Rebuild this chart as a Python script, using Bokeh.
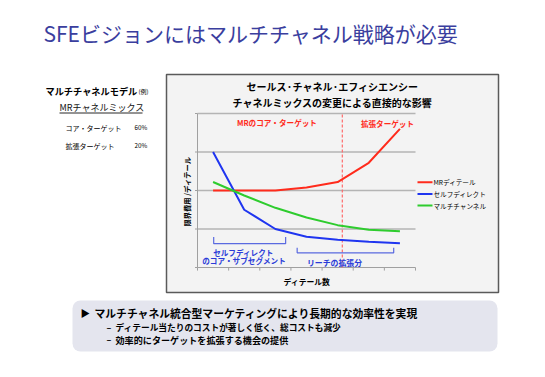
import math
from bokeh.plotting import figure
from bokeh.models import Range1d, Label
from bokeh.embed import file_html
from bokeh.resources import INLINE

# ---------------- data ----------------
detail_x = [0.5, 1.5, 2.5, 3.5, 4.5, 5.5, 6.5]
mr_detail = [2.0, 2.0, 2.0, 2.08, 2.22, 2.72, 3.6]
self_direct = [3.0, 1.5, 1.0, 0.8, 0.72, 0.67, 0.63]
multi_channel = [2.22, 1.87, 1.55, 1.3, 1.1, 0.98, 0.94]
series_names = ["MRディテール", "セルフディレクト", "マルチチャンネル"]
series_colors = ["#ff2b1c", "#1f35f0", "#2ecc2e"]
grid_levels = [1, 2, 3, 4]
x_ticks = [0, 1, 2, 3, 4, 5, 6, 7]
boundary_x = 4.65
core_span = [0.52, 2.83]
reach_span = [3.2, 6.3]
mix_labels = ["コア・ターゲット", "拡張ターゲット"]
mix_values = ["60%", "20%"]

FONT = "Noto Sans CJK JP"
W, H = 545, 377

p = figure(width=W, height=H, output_backend="svg", toolbar_location=None,
           x_range=Range1d(0, W), y_range=Range1d(H, 0),
           x_axis_location=None, y_axis_location=None, min_border=0)
p.outline_line_color = None
p.grid.visible = False
p.background_fill_color = "white"
p.border_fill_color = "white"

# chart scales (plot area in page)
PX = (197, 415)   # x=0 .. x=7
PY = (267, 113)   # y=0 .. y=4
X_LIM = (0, 7)
Y_LIM = (0, 4)
sx = (PX[1] - PX[0]) / (X_LIM[1] - X_LIM[0])
sy = (PY[0] - PY[1]) / (Y_LIM[1] - Y_LIM[0])
p.extra_x_ranges = {"cx": Range1d(X_LIM[0] - PX[0] / sx, X_LIM[1] + (W - PX[1]) / sx)}
p.extra_y_ranges = {"cy": Range1d(Y_LIM[0] - (H - PY[0]) / sy, Y_LIM[1] + PY[1] / sy)}
C = dict(x_range_name="cx", y_range_name="cy")


def lab(x, y, text, size, color="#000000", bold=False, align="left", angle=0.0, chart=False):
    kw = C if chart else {}
    p.add_layout(Label(x=x, y=y, text=text, text_font=FONT, text_font_size=f"{size}px",
                       text_color=color, text_font_style="bold" if bold else "normal",
                       text_align=align, text_baseline="middle", angle=angle, **kw))


# ---------------- page title ----------------
lab(43, 32, "SFEビジョンにはマルチチャネル戦略が必要", 21, color="#3a3e9e")

# ---------------- left model text ----------------
lab(45, 90, "マルチチャネルモデル", 9.2, bold=True)
lab(138, 91, "(例)", 6)
lab(59, 107, "MRチャネルミックス", 9, color="#111111")
p.segment(x0=59, x1=142, y0=112.5, y1=112.5, line_color="#111111", line_width=0.9)
for i, (name, val) in enumerate(zip(mix_labels, mix_values)):
    lab(65, 127 + 18 * i, name, 7)
    lab(134, 127 + 18 * i, val, 6.3)

# ---------------- chart box ----------------
p.quad(left=166, right=498, top=74, bottom=292, fill_color="#f3f3f3",
       line_color="#5a5a5a", line_width=1.5)
lab(332, 86, "セールス·チャネル·エフィシエンシー", 10, bold=True, align="center")
lab(332, 101.5, "チャネルミックスの変更による直接的な影響", 10, bold=True, align="center")

# gridlines and axes
p.segment(x0=X_LIM[0], x1=X_LIM[1], y0=grid_levels, y1=grid_levels,
          line_color="#b4b4b4", line_width=1.5, **C)
p.segment(x0=0, x1=0, y0=0, y1=4, line_color="#a0a0a0", line_width=1, **C)
p.segment(x0=0, x1=7, y0=0, y1=0, line_color="#a0a0a0", line_width=1, **C)
p.segment(x0=x_ticks, x1=x_ticks, y0=[0] * len(x_ticks), y1=[-0.08] * len(x_ticks),
          line_color="#a0a0a0", line_width=1, **C)
p.segment(x0=[-0.08] * 5, x1=[0] * 5, y0=[0] + grid_levels, y1=[0] + grid_levels,
          line_color="#a0a0a0", line_width=1, **C)

# boundary
p.segment(x0=boundary_x, x1=boundary_x, y0=0, y1=4, line_color="#ff6b6b",
          line_width=1.2, line_dash="3 2", **C)
lab(2.55, 3.77, "MRのコア・ターゲット", 7.6, color="#ff2b1c", bold=True, align="center", chart=True)
lab(6.1, 3.75, "拡張ターゲット", 7.6, color="#ff2b1c", bold=True, align="center", chart=True)

# series
for ys, col in zip([mr_detail, self_direct, multi_channel], series_colors):
    p.line(detail_x, ys, line_color=col, line_width=2, **C)

# brackets
BLUE_T = "#2a3bd8"
for (a, b), top, bot in [(core_span, 0.79, 0.62), (reach_span, 0.51, 0.38)]:
    p.line([a, a, b, b], [top, bot, bot, top], line_color="#5a6ae0", line_width=1.2, **C)
lab(243, 251.7, "セルフディレクト", 7.6, color=BLUE_T, bold=True, align="center")
lab(243.5, 260.3, "のコア・サブセグメント", 7.6, color=BLUE_T, bold=True, align="center")
lab(334, 262, "リーチの拡張分", 7.9, color=BLUE_T, bold=True, align="center")

# axis titles
lab(306.5, 281, "ディテール数", 7.8, bold=True, align="center")
lab(186.5, 191, "限界費用 /ディテール", 7.3, bold=True, align="center", angle=math.pi / 2)

# legend
for i, (name, col) in enumerate(zip(series_names, series_colors)):
    yy = 181.7 + 11.7 * i
    p.segment(x0=417, x1=432, y0=yy, y1=yy, line_color=col, line_width=2)
    lab(433, yy, name, 6.6)

# ---------------- bottom message box ----------------
p.quad(left=72, right=497, top=300, bottom=351, border_radius=8,
       fill_color="#e4e5ee", line_color=None)
lab(80, 312.5, "▶", 9.5)
lab(94, 312.5, "マルチチャネル統合型マーケティングにより長期的な効率性を実現", 10.8, bold=True)
lab(106, 327, "–", 8.8, bold=True)
lab(115, 327, "ディテール当たりのコストが著しく低く、総コストも減少", 8.7, bold=True)
lab(106, 339, "–", 8.8, bold=True)
lab(115, 339, "効率的にターゲットを拡張する機会の提供", 9.1, bold=True)

open("out.html", "w").write(file_html(p, INLINE))
